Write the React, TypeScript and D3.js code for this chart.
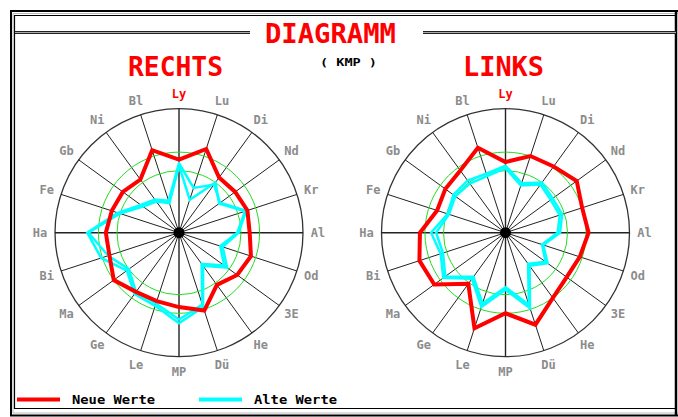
import * as d3 from 'd3';

// Achsen im Uhrzeigersinn, beginnend oben
const axes = ['Ly', 'Lu', 'Di', 'Nd', 'Kr', 'Al', 'Od', '3E', 'He', 'Dü', 'MP', 'Le', 'Ge', 'Ma', 'Bi', 'Ha', 'Fe', 'Gb', 'Ni', 'Bl'];
const rings = [50, 65];

// RECHTS
const rechtsNeu = [59, 71, 55, 56, 58, 57, 61, 58, 52, 66, 60, 58, 59, 65, 59, 59, 57, 56, 53, 70];
const rechtsAlt1 = [56, 38, 48, 41, 57, 48, 37, 48, 33, 63, 73, 62, 61, 52, 66, 74, 52, 38, 33, 27];
const rechtsAlt2 = [54, 28, 50, 40, 56, 47, 35, 45, 31, 61, 70, 60, 59, 50, 60, 73, 50, 36, 31, 25];

// LINKS
const linksNeu = [57, 65, 66, 71, 65, 67, 63, 61, 65, 78, 65, 81, 51, 71, 73, 69, 58, 60, 62, 72];
const linksAlt1 = [54, 42, 50, 47, 48, 44, 32, 42, 33, 64, 46, 63, 46, 62, 55, 60, 49, 52, 52, 50];
const linksAlt2 = [52, 40, 48, 45, 46, 42, 31, 40, 31, 61, 44, 60, 44, 60, 53, 56, 48, 50, 49, 48];

const legend = [
  { label: 'Neue Werte', color: '#ff0000' },
  { label: 'Alte Werte', color: '#00ffff' },
];

const W = 678;
const H = 417;
const R = 124;
const mono = "'DejaVu Sans Mono', 'Liberation Mono', monospace";

function Radar({ cx, cy, neu, alt1, alt2 }: { cx: number; cy: number; neu: number[]; alt1: number[]; alt2: number[] }) {
  const r = d3.scaleLinear().domain([0, 100]).range([0, R]);
  const a = d3.scaleLinear().domain([0, axes.length]).range([0, 2 * Math.PI]);
  const line = d3.lineRadial<number>()
    .angle((_, i) => a(i))
    .radius(d => r(d))
    .curve(d3.curveLinearClosed);

  return (
    <g transform={`translate(${cx},${cy})`}>
      <circle r={R} fill="none" stroke="#333" strokeWidth={1.3} />
      {axes.map((name, i) => {
        const ang = a(i);
        const x = Math.sin(ang), y = -Math.cos(ang);
        return (
          <g key={name}>
            <line x1={0} y1={0} x2={x * R} y2={y * R} stroke="#222" strokeWidth={i % 5 === 0 ? 1.4 : 1} />
            <text x={x * (R + 15)} y={y * (R + 15)} textAnchor="middle" dominantBaseline="central"
              fontFamily={mono} fontWeight="bold" fontSize={12}
              fill={i === 0 ? '#ff0000' : '#8c8c8c'}>{name}</text>
          </g>
        );
      })}
      {rings.map(v => (
        <circle key={v} r={r(v)} fill="none" stroke="#22dd22" strokeWidth={1} />
      ))}
      <path d={line(alt1) ?? ''} fill="none" stroke="#00ffff" strokeWidth={2.5} />
      <path d={line(alt2) ?? ''} fill="none" stroke="#00ffff" strokeWidth={2.5} />
      <path d={line(neu) ?? ''} fill="none" stroke="#ff0000" strokeWidth={4} />
      <circle r={5.5} fill="#000" />
    </g>
  );
}

export default function App() {
  return (
    <svg width={W} height={H} style={{ position: 'absolute', left: 0, top: 0, background: '#fff' }}>
      {/* Rahmen */}
      <path d={`M${W + 2},11 H11 V415.5 H${W + 2}`} fill="none" stroke="#000" strokeWidth={2} />
      <path d={`M${W},13.5 H13 V413 H${W}`} fill="none" stroke="#bbb" strokeWidth={1} />
      <path d={`M676,15.5 H14.5 V408.5 H676 Z`} fill="none" stroke="#000" strokeWidth={1.2} />
      <line x1={676} x2={676} y1={11} y2={415} stroke="#000" strokeWidth={2.5} />

      {/* Titellinien */}
      {[[15, 250], [423, 676]].map(([x1, x2]) => (
        <g key={x1}>
          <line x1={x1} x2={x2} y1={31.5} y2={31.5} stroke="#222" />
          <line x1={x1} x2={x2} y1={32.5} y2={32.5} stroke="#aaa" />
          <line x1={x1} x2={x2} y1={33.5} y2={33.5} stroke="#222" />
        </g>
      ))}
      <text x={265} y={43} fontFamily={mono} fontWeight="bold" fontSize={27} fill="#ff0000"
        textLength={131} lengthAdjust="spacingAndGlyphs">DIAGRAMM</text>
      <text x={128} y={76} fontFamily={mono} fontWeight="bold" fontSize={26} fill="#ff0000"
        textLength={95} lengthAdjust="spacingAndGlyphs">RECHTS</text>
      <text x={463} y={76} fontFamily={mono} fontWeight="bold" fontSize={26} fill="#ff0000"
        textLength={81} lengthAdjust="spacingAndGlyphs">LINKS</text>
      <text x={320} y={66} fontFamily={mono} fontWeight="bold" fontSize={11} fill="#000"
        textLength={57} lengthAdjust="spacingAndGlyphs">( KMP )</text>

      <Radar cx={179} cy={232.7} neu={rechtsNeu} alt1={rechtsAlt1} alt2={rechtsAlt2} />
      <Radar cx={505.5} cy={232.7} neu={linksNeu} alt1={linksAlt1} alt2={linksAlt2} />

      {/* Legende */}
      {legend.map((d, i) => (
        <g key={d.label} transform={`translate(${17 + i * 182},399.5)`}>
          <line x1={0} x2={43} y1={0} y2={0} stroke={d.color} strokeWidth={4} />
          <text x={55} y={4.5} fontFamily={mono} fontWeight="bold" fontSize={12} fill="#000"
            textLength={83} lengthAdjust="spacingAndGlyphs">{d.label}</text>
        </g>
      ))}
    </svg>
  );
}
